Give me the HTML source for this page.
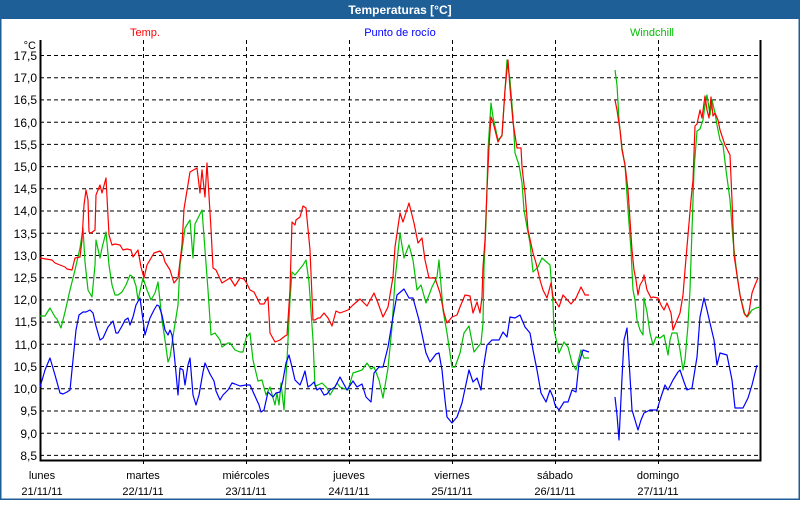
<!DOCTYPE html>
<html><head><meta charset="utf-8"><style>
html,body{margin:0;padding:0;background:#fff;}
body{width:800px;height:500px;overflow:hidden;font-family:"Liberation Sans","DejaVu Sans",sans-serif;}
</style></head><body>
<svg width="800" height="500" xmlns="http://www.w3.org/2000/svg" font-family="Liberation Sans, DejaVu Sans, sans-serif">
<rect x="0" y="0" width="800" height="500" fill="#fff"/>
<rect x="0.5" y="0.5" width="799" height="499" fill="none" stroke="#1e5f98" stroke-width="2"/>
<rect x="0" y="0" width="800" height="19" fill="#1e5f98"/>
<text x="400" y="14" fill="#fff" font-size="12" font-weight="bold" text-anchor="middle">Temperaturas [°C]</text>
<text x="145" y="36" fill="#ff0000" font-size="11" text-anchor="middle">Temp.</text>
<text x="400" y="36" fill="#0000ff" font-size="11" text-anchor="middle">Punto de rocío</text>
<text x="652" y="36" fill="#00c000" font-size="11" text-anchor="middle">Windchill</text>
<g stroke="#000" stroke-dasharray="4,3" stroke-width="1">
<line x1="40" x2="760" y1="55.5" y2="55.5"/><line x1="40" x2="760" y1="77.7" y2="77.7"/><line x1="40" x2="760" y1="99.9" y2="99.9"/><line x1="40" x2="760" y1="122.2" y2="122.2"/><line x1="40" x2="760" y1="144.4" y2="144.4"/><line x1="40" x2="760" y1="166.6" y2="166.6"/><line x1="40" x2="760" y1="188.8" y2="188.8"/><line x1="40" x2="760" y1="211" y2="211"/><line x1="40" x2="760" y1="233.2" y2="233.2"/><line x1="40" x2="760" y1="255.5" y2="255.5"/><line x1="40" x2="760" y1="277.7" y2="277.7"/><line x1="40" x2="760" y1="299.9" y2="299.9"/><line x1="40" x2="760" y1="322.1" y2="322.1"/><line x1="40" x2="760" y1="344.3" y2="344.3"/><line x1="40" x2="760" y1="366.5" y2="366.5"/><line x1="40" x2="760" y1="388.8" y2="388.8"/><line x1="40" x2="760" y1="411" y2="411"/><line x1="40" x2="760" y1="433.2" y2="433.2"/><line x1="40" x2="760" y1="455.4" y2="455.4"/>
<line x1="143.5" x2="143.5" y1="40" y2="466"/><line x1="246.5" x2="246.5" y1="40" y2="466"/><line x1="349.5" x2="349.5" y1="40" y2="466"/><line x1="452.5" x2="452.5" y1="40" y2="466"/><line x1="555.5" x2="555.5" y1="40" y2="466"/><line x1="658.5" x2="658.5" y1="40" y2="466"/>
</g>
<path d="M40.5 40 V460.5 H760.5 V40" fill="none" stroke="#000" stroke-width="2"/>
<g font-size="12" fill="#000" text-anchor="end">
<text x="36" y="49" font-size="11">°C</text>
<text x="37" y="60">17,5</text><text x="37" y="82">17,0</text><text x="37" y="104">16,5</text><text x="37" y="127">16,0</text><text x="37" y="149">15,5</text><text x="37" y="171">15,0</text><text x="37" y="193">14,5</text><text x="37" y="215">14,0</text><text x="37" y="238">13,5</text><text x="37" y="260">13,0</text><text x="37" y="282">12,5</text><text x="37" y="304">12,0</text><text x="37" y="326">11,5</text><text x="37" y="349">11,0</text><text x="37" y="371">10,5</text><text x="37" y="393">10,0</text><text x="37" y="415">9,5</text><text x="37" y="438">9,0</text><text x="37" y="460">8,5</text>
</g>
<g font-size="11" fill="#000" text-anchor="middle">
<text x="42" y="479">lunes</text><text x="42" y="495">21/11/11</text>
<text x="143" y="479">martes</text><text x="143" y="495">22/11/11</text>
<text x="246" y="479">miércoles</text><text x="246" y="495">23/11/11</text>
<text x="349" y="479">jueves</text><text x="349" y="495">24/11/11</text>
<text x="452" y="479">viernes</text><text x="452" y="495">25/11/11</text>
<text x="555" y="479">sábado</text><text x="555" y="495">26/11/11</text>
<text x="658" y="479">domingo</text><text x="658" y="495">27/11/11</text>
</g>
<g fill="none" stroke-width="1.2" stroke-linejoin="round">
<polyline stroke="#00c000" points="40,316 45,316 50,308 55,317 57,319 61,328 65,312 70,290 75,270 80,248 83,228 85,262 88,290 92,297 95,265 96,240 100,258 102,248 106,232 109,265 112,285 115,295 118,295 122,292 126,285 130,275 133,277 136,286 138,300 143,278 147,290 151,300 155,293 158,282 162,320 165,340 168,362 170,357 174,330 178,305 180,265 185,228 190,220 193,258 195,224 202,210 205,250 208,290 211,335 215,333 220,340 222,347 225,345 228,343 230,343 235,350 240,352 243,352 246,338 250,333 253,360 258,381 262,380 266,395 270,387 275,405 277,393 279,405 281,383 284,410 287,360 290,300 292,272 295,275 299,270 303,265 306,260 309,282 313,340 315,386 318,385 322,383 327,388 330,395 333,390 337,383 340,387 348,390 353,373 362,370 367,363 371,369 374,367 379,380 383,398 388,368 392,327 395,280 400,233 404,258 409,245 413,260 417,290 421,285 426,303 432,287 437,277 439,260 443,310 447,333 452,367 455,367 460,353 464,333 469,326 474,352 481,343 483,323 484,267 486,223 488,150 491,103 493,117 498,140 502,136 505,90 507,60 510,80 513,117 515,153 519,165 522,183 524,210 527,227 530,243 533,272 538,267 542,258 550,265 553,303 554,330 557,343 559,353 564,342 568,347 572,363 576,370 581,350 584,358 589,358"/>
<polyline stroke="#00c000" points="615,70 617,85 619,120 622,148 625,165 628,210 631,250 633,290 635,300 637,320 640,330 643,335 644,298 647,312 650,333 653,345 656,337 660,338 664,335 668,355 670,340 672,333 677,333 680,350 683,370 685,360 688,325 690,290 692,230 694,170 697,131 700,129 703,120 705,105 707,95 710,115 712,100 715,113 717,125 720,140 723,145 726,170 730,200 733,240 737,275 740,295 745,315 748,316 752,310 756,308 760,307"/>
<polyline stroke="#ff0000" points="40,258 52,260 55,263 65,267 67,269 72,270 75,258 80,257 82,240 84,205 86,190 88,200 89,232 91,233 95,230 96,195 100,185 102,193 106,178 109,235 112,245 115,244 120,245 123,250 127,249 131,250 133,257 138,250 141,267 144,278 147,265 154,253 160,251 163,255 165,262 170,270 174,283 178,278 182,245 184,209 190,172 197,168 200,193 202,170 205,197 207,163 211,229 213,268 216,270 222,283 230,278 235,286 240,278 244,279 246,282 250,290 254,292 260,304 264,304 268,297 270,333 275,342 280,340 285,336 287,335 290,290 292,222 295,225 296,220 300,217 303,206 306,208 310,250 313,320 315,320 318,318 320,318 324,313 328,318 332,326 336,311 340,313 348,310 353,305 360,299 367,306 374,293 378,303 383,317 388,307 393,277 395,247 400,213 403,222 409,203 414,223 418,243 422,238 425,260 429,278 435,278 440,293 444,313 447,323 452,317 457,315 460,307 465,295 470,296 473,313 477,302 480,313 482,297 483,267 485,240 487,190 489,147 491,117 493,122 498,142 502,135 505,90 508,60 510,88 513,122 517,148 521,148 522,167 525,193 528,230 533,253 536,263 540,280 543,290 547,298 551,283 553,297 559,307 563,295 571,304 576,298 581,287 585,295 589,295"/>
<polyline stroke="#ff0000" points="615,100 617,110 620,130 622,150 625,165 628,190 630,220 632,250 634,270 636,280 638,295 640,285 643,280 644,275 647,290 651,298 653,297 658,298 661,305 664,310 667,303 671,313 673,330 675,325 680,313 683,295 685,270 688,235 691,200 693,180 695,126 697,124 700,110 702,118 705,96 707,110 709,118 711,97 713,116 715,113 718,120 720,130 725,145 730,155 732,200 734,255 737,275 740,295 744,313 747,317 749,312 752,293 755,285 758,278"/>
<polyline stroke="#0000ff" points="40,387 43,377 45,370 50,358 55,375 60,393 63,394 67,392 70,390 73,360 76,330 79,315 83,312 86,312 90,310 93,313 96,326 100,340 103,338 108,327 113,321 116,333 118,333 122,326 125,320 128,318 130,325 133,317 136,305 140,298 145,335 147,328 150,318 154,310 157,305 159,306 162,315 165,330 168,335 170,330 172,335 174,352 176,373 178,395 180,368 183,370 185,385 188,365 190,358 193,395 196,405 199,395 203,372 205,363 210,374 214,381 216,391 220,400 223,395 228,390 232,383 235,384 240,386 246,385 250,385 259,405 261,412 264,410 268,392 273,397 276,393 280,392 283,380 286,363 289,355 292,367 295,380 300,385 302,380 305,371 308,387 311,385 314,382 317,390 320,388 324,395 327,394 330,390 335,387 340,377 347,390 353,381 357,387 362,384 366,397 371,402 374,373 379,367 383,367 388,347 393,317 397,295 404,289 409,298 413,298 419,320 426,353 430,362 436,354 439,353 442,370 445,400 447,417 452,423 457,417 462,403 469,370 473,382 477,378 481,390 483,370 487,345 492,340 499,340 503,332 507,337 510,317 515,318 520,315 525,327 530,333 533,350 537,370 541,393 546,402 550,390 553,397 555,405 559,410 564,402 568,402 572,390 576,392 579,363 583,350 589,352"/>
<polyline stroke="#0000ff" points="615,397 617,415 619,440 622,378 624,340 627,328 629,360 632,410 635,420 638,430 641,420 644,413 650,410 657,410 660,400 665,385 668,390 673,380 678,372 680,370 684,382 687,390 692,388 697,357 700,317 704,298 707,310 710,323 714,340 717,365 720,353 727,355 732,380 735,408 743,408 748,398 752,385 757,365"/>
</g>
</svg>
</body></html>
